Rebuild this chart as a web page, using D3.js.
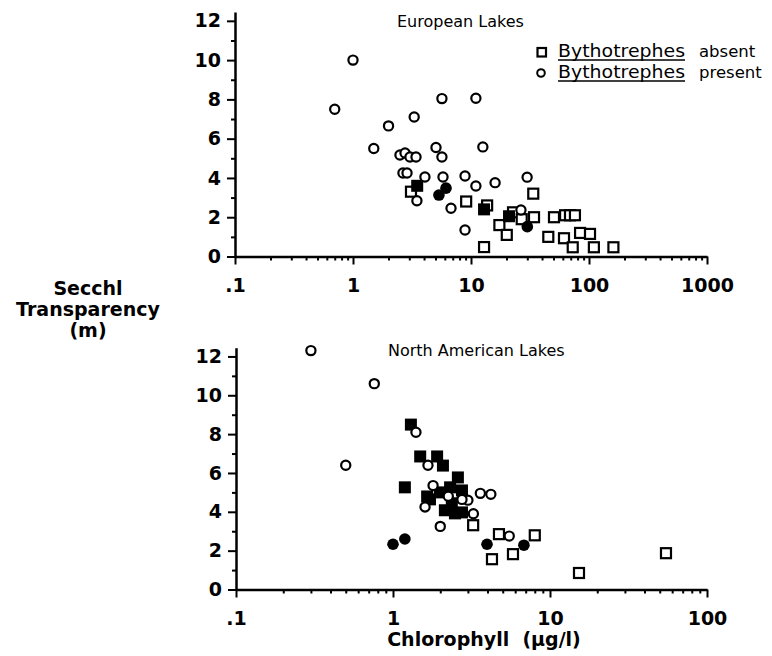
<!DOCTYPE html>
<html>
<head>
<meta charset="utf-8">
<script src="https://d3js.org/d3.v7.min.js"></script>
<style>
  body { margin: 0; background: #fff; }
  text { font-family: "DejaVu Sans", sans-serif; fill: #000; }
</style>
</head>
<body>
<svg width="772" height="656"></svg>
<script>
// chlorophyll (ug/l), secchi (m)
var euAbsent = [[3.1,3.3],[9.1,2.8],[13.7,2.6],[12.9,0.48],[33.7,3.2],[17.4,1.6],[20.1,1.1],[22.7,2.25],
  [26.9,1.9],[34.2,2.0],[50.5,2.0],[62.7,2.1],[69,2.1],[76,2.1],[45.2,1.0],[61.4,0.93],[72.8,0.47],
  [84,1.2],[102,1.15],[110,0.47],[161,0.47]];
var euAbsentFilled = [[3.5,3.6],[12.9,2.4],[21,2.05]];
var euPresent = [[0.7,7.5],[1.0,10.0],[2.0,6.65],[3.3,7.1],[1.5,5.5],[2.5,5.17],[2.76,5.27],[3.04,5.07],
  [3.42,5.07],[2.65,4.25],[2.87,4.25],[5.05,5.55],[5.67,5.07],[5.67,8.04],[11.0,8.06],[12.6,5.58],
  [4.07,4.05],[5.79,4.05],[8.9,4.1],[11.0,3.59],[16,3.76],[29.9,4.04],[3.48,2.84],[6.77,2.46],
  [8.9,1.35],[26.5,2.37]];
var euPresentFilled = [[5.35,3.13],[6.14,3.48],[30,1.52]];

var naAbsent = [[3.24,3.31],[4.73,2.85],[4.27,1.56],[5.81,1.82],[8.0,2.79],[15.3,0.85],[54.8,1.87]];
var naAbsentFilled = [[1.3,8.49],[1.49,6.85],[1.91,6.85],[2.08,6.38],[1.19,5.26],[2.59,5.77],[1.65,4.79],
  [1.99,5.0],[2.31,5.26],[2.75,5.1],[1.72,4.64],[2.14,4.08],[2.48,3.92],[2.75,3.97],[2.37,4.44]];
var naPresent = [[0.3,12.3],[0.76,10.6],[0.5,6.4],[1.4,8.1],[1.67,6.4],[1.8,5.35],[1.6,4.25],[2.0,3.25],
  [2.25,4.8],[3.0,4.6],[3.6,4.95],[4.2,4.9],[3.25,3.9],[5.5,2.75],[2.75,4.64]];
var naPresentFilled = [[1.0,2.33],[1.19,2.6],[3.97,2.33],[6.82,2.28]];

var yTicks = [0,2,4,6,8,10,12];
var yMinor = [1,3,5,7,9,11];
var euXTicks = [0.1,1,10,100,1000];
var naXTicks = [0.1,1,10,100];
var xFmt = function (d) { return d == 0.1 ? '.1' : String(d); };

var svg = d3.select('svg');

function panel(o) {
  var x = d3.scaleLog().domain(o.xDomain).range(o.xRange);
  var y = d3.scaleLinear().domain([0, 12.45]).range(o.yRange);
  var g = svg.append('g');

  // minor log ticks
  var minor = [];
  o.xTicks.forEach(function (t, i) {
    if (i == o.xTicks.length - 1) return;
    for (var k = 2; k <= 9; k++) minor.push(t * k);
  });

  g.append('g').attr('transform', 'translate(0,' + o.yRange[0] + ')')
    .call(d3.axisBottom(x).tickValues(minor).tickSize(4).tickFormat(''))
    .call(function (a) { a.select('.domain').remove(); });
  g.append('g').attr('class', 'xa').attr('transform', 'translate(0,' + o.yRange[0] + ')')
    .call(d3.axisBottom(x).tickValues(o.xTicks).tickSize(8).tickSizeOuter(0).tickPadding(14).tickFormat(xFmt));

  g.append('g').attr('transform', 'translate(' + o.xRange[0] + ',0)')
    .call(d3.axisLeft(y).tickValues(yMinor).tickSize(4).tickFormat(''))
    .call(function (a) { a.select('.domain').remove(); });
  g.append('g').attr('class', 'ya').attr('transform', 'translate(' + o.xRange[0] + ',0)')
    .call(d3.axisLeft(y).tickValues(yTicks).tickSize(8).tickSizeOuter(0).tickPadding(6));

  g.selectAll('.domain').attr('stroke-width', 2.5);
  g.selectAll('.tick line').attr('stroke-width', 2);
  g.selectAll('.tick text').style('font-size', '19px').style('font-weight', 'bold');

  var side = 10;
  g.selectAll('.sqo').data(o.absent).enter().append('rect')
    .attr('x', function (d) { return x(d[0]) - side / 2; })
    .attr('y', function (d) { return y(d[1]) - side / 2; })
    .attr('width', side).attr('height', side)
    .attr('fill', '#fff').attr('stroke', '#000').attr('stroke-width', 2.2);
  g.selectAll('.sqf').data(o.absentFilled).enter().append('rect')
    .attr('x', function (d) { return x(d[0]) - side / 2 - 1; })
    .attr('y', function (d) { return y(d[1]) - side / 2 - 1; })
    .attr('width', side + 2).attr('height', side + 2)
    .attr('fill', '#000');
  g.selectAll('.cio').data(o.present).enter().append('circle')
    .attr('cx', function (d) { return x(d[0]); })
    .attr('cy', function (d) { return y(d[1]); })
    .attr('r', 4.6)
    .attr('fill', '#fff').attr('stroke', '#000').attr('stroke-width', 2.2);
  g.selectAll('.cif').data(o.presentFilled).enter().append('circle')
    .attr('cx', function (d) { return x(d[0]); })
    .attr('cy', function (d) { return y(d[1]); })
    .attr('r', 5.8)
    .attr('fill', '#000');

  g.append('text').attr('x', o.titleX).attr('y', o.titleY)
    .style('font-size', '16px').text(o.title);
}

panel({
  xDomain: [0.1, 1000], xRange: [235, 707], yRange: [256.5, 12],
  xTicks: euXTicks, absent: euAbsent, absentFilled: euAbsentFilled,
  present: euPresent, presentFilled: euPresentFilled,
  title: 'European Lakes', titleX: 397, titleY: 27
});

panel({
  xDomain: [0.1, 100], xRange: [236, 707], yRange: [589.5, 347.7],
  xTicks: naXTicks, absent: naAbsent, absentFilled: naAbsentFilled,
  present: naPresent, presentFilled: naPresentFilled,
  title: 'North American Lakes', titleX: 388, titleY: 356
});

// legend
var leg = svg.append('g');
leg.append('rect').attr('x', 537.5).attr('y', 48).attr('width', 8.5).attr('height', 8.5)
  .attr('fill', '#fff').attr('stroke', '#000').attr('stroke-width', 2.2);
leg.append('circle').attr('cx', 541).attr('cy', 73).attr('r', 3.8)
  .attr('fill', '#fff').attr('stroke', '#000').attr('stroke-width', 2);
[['absent', 57], ['present', 78]].forEach(function (r) {
  leg.append('text').attr('x', 558).attr('y', r[1]).style('font-size', '17px')
    .attr('textLength', 127).attr('lengthAdjust', 'spacingAndGlyphs').text('Bythotrephes');
  leg.append('line').attr('x1', 558).attr('x2', 685).attr('y1', r[1] + 3).attr('y2', r[1] + 3)
    .attr('stroke', '#000').attr('stroke-width', 1.5);
  leg.append('text').attr('x', 699).attr('y', r[1]).style('font-size', '16.5px').text(r[0]);
});

// axis titles
var yl = svg.append('text').attr('text-anchor', 'middle')
  .style('font-size', '19px').style('font-weight', 'bold');
yl.append('tspan').attr('x', 88).attr('y', 295).text('Secchl');
yl.append('tspan').attr('x', 88).attr('y', 316).text('Transparency');
yl.append('tspan').attr('x', 88).attr('y', 337).text('(m)');

svg.append('text').attr('x', 484).attr('y', 646).attr('text-anchor', 'middle')
  .style('font-size', '19px').style('font-weight', 'bold')
  .attr('xml:space', 'preserve').text('Chlorophyll  (\u00b5g/l)');
</script>
</body>
</html>
